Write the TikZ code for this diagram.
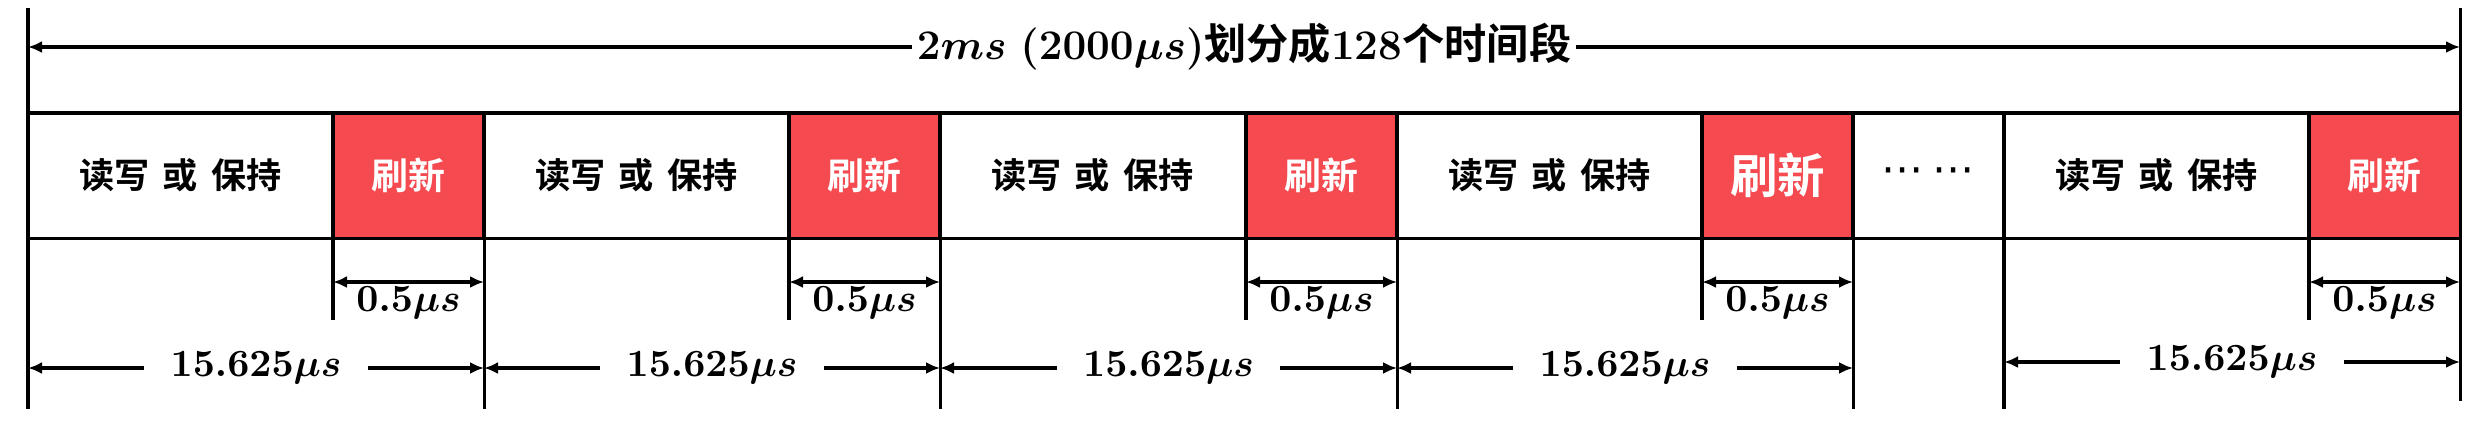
\documentclass[tikz,border=0pt]{standalone}
\usepackage{fontspec}
\usepackage{amsmath}
\usetikzlibrary{arrows.meta}
\newfontfamily\cjkb{Noto Sans CJK SC Bold}
\newfontfamily\djv{DejaVu Sans}
\definecolor{refred}{HTML}{F44A50}
\begin{document}
\begin{tikzpicture}[x=0.01cm,y=-0.01cm, line width=0.9pt,
  cell/.style={draw, rectangle, inner sep=0pt, outer sep=0pt, minimum height=1.25cm, anchor=north west},
  rw/.style={cell, minimum width=3.05cm, font=\cjkb\fontsize{10}{12}\selectfont},
  rf/.style={cell, fill=refred, text=white, minimum width=1.51cm, font=\cjkb\fontsize{10.5}{12}\selectfont},
  rfbig/.style={rf, font=\cjkb\fontsize{13.5}{15}\selectfont},
  dotcell/.style={cell, minimum width=1.51cm, font=\djv\fontsize{12}{14}\selectfont},
  dim/.style={{Latex[length=1.4mm,width=1.2mm]}-{Latex[length=1.4mm,width=1.2mm]}},
  lab/.style={font=\boldmath\fontsize{11}{13}\selectfont, fill=white, inner ysep=1pt, inner xsep=7.5pt},
  sublab/.style={font=\boldmath\fontsize{11}{13}\selectfont, inner sep=0pt},
  title/.style={font=\boldmath\fontsize{12}{14}\selectfont, fill=white, inner xsep=1.5pt, inner ysep=1pt}]
\useasboundingbox (0,0) rectangle (2487,423);
\newcommand{\rwtext}{读写\hspace{3.7pt}或\hspace{3.7pt}保持}
% helper levels
\coordinate (ytop) at (0,8);
\coordinate (ybot) at (0,409);
\coordinate (ybotR) at (0,401);
\coordinate (yhalf) at (0,282);
\coordinate (yhalfend) at (0,320);
\coordinate (yper) at (0,368);
\coordinate (yperR) at (0,362);
\coordinate (ytitle) at (0,47);
% cells
\node[rw] (rw1) at (28,113) {\rwtext};
\node[rf] (rf1) at (333,113) {刷新};
\node[rw] (rw2) at (484,113) {\rwtext};
\node[rf] (rf2) at (789,113) {刷新};
\node[rw] (rw3) at (940,113) {\rwtext};
\node[rf] (rf3) at (1246,113) {刷新};
\node[rw] (rw4) at (1397,113) {\rwtext};
\node[rfbig] (rf4) at (1702,113) {刷新};
\node[dotcell] (dots) at (1853,113) {⋯\hspace{2.5pt}⋯};
\node[rw] (rw5) at (2004,113) {\rwtext};
\node[rf] (rf5) at (2309,113) {刷新};
% outer vertical lines
\draw (rw1.north west |- ytop) -- (rw1.north west |- ybot);
\draw (rf5.north east |- ytop) -- (rf5.north east |- ybotR);
% total span arrow with title
\draw[dim] (rw1.north west |- ytitle) -- (rf5.north east |- ytitle)
  node[title, midway] (ttl) {$2ms\ (2000\mu s)${\cjkb 划分成}\textbf{128}{\cjkb 个时间段}};
% period boundary extensions
\foreach \i in {1,2,3,4} {
  \draw (rf\i.south east) -- (rf\i.south east |- ybot);
}
\draw (rw5.south west) -- (rw5.south west |- ybot);
% refresh widths
\foreach \i in {1,...,5} {
  \draw (rf\i.south west) -- (rf\i.south west |- yhalfend);
  \draw[dim] (rf\i.south west |- yhalf) -- (rf\i.south east |- yhalf);
  \path (rf\i.south) ++(0,65) node[sublab] (h\i) {$0.5\mu s$};
}
% period widths
\foreach \i in {1,2,3,4} {
  \draw[dim] (rw\i.south west |- yper) -- (rf\i.south east |- yper)
    node[lab, midway] (p\i) {$15.625\mu s$};
}
\draw[dim] (rw5.south west |- yperR) -- (rf5.south east |- yperR)
  node[lab, midway] (p5) {$15.625\mu s$};
\end{tikzpicture}
\end{document}
